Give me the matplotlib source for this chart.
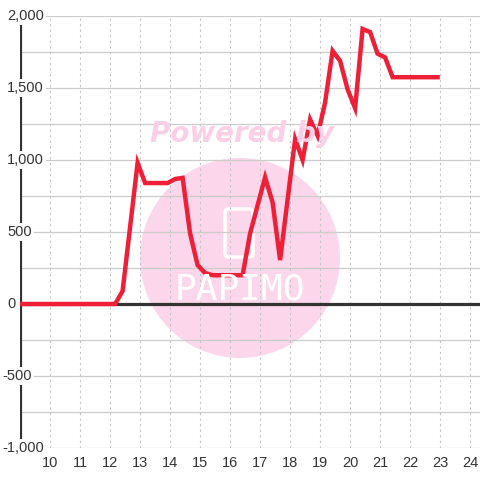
import matplotlib
matplotlib.use("Agg")
from matplotlib import pyplot as plt
from matplotlib import patches, transforms

plt.rcParams['font.family'] = ['Liberation Sans', 'DejaVu Sans']

# hour of day and value
hours = [9.0, 12.17, 12.42, 12.92, 13.17, 13.92, 14.17, 14.42, 14.67, 14.92,
         15.17, 15.42, 16.42, 16.67, 17.17, 17.42, 17.67, 18.17, 18.42, 18.67,
         18.92, 19.17, 19.42, 19.67, 19.92, 20.17, 20.42, 20.67, 20.92, 21.17,
         21.42, 22.92]
values = [0, 0, 90, 980, 840, 840, 868, 876, 490, 270,
          215, 200, 200, 490, 880, 705, 305, 1145, 1000, 1282,
          1168, 1400, 1758, 1688, 1490, 1360, 1910, 1888, 1738, 1712,
          1575, 1575]

x_ticks = list(range(10, 25))
y_ticks = [2000, 1500, 1000, 500, 0, -500, -1000]
y_labels = ["2,000", "1,500", "1,000", "500", "0", "-500", "-1,000"]

W = 480
fig = plt.figure(figsize=(4.8, 4.8), dpi=100)
ax = fig.add_axes([20 / W, 32 / W, 460 / W, 432 / W])
ax.set_xlim(9, 24.333)
ax.set_ylim(-1000, 2000)
for s in ax.spines.values():
    s.set_visible(False)

# watermark
circ = patches.Ellipse((240 / W, 1 - 258 / W), 200 / W, 200 / W, transform=fig.transFigure,
                       facecolor='#fcd6ea', edgecolor='none', zorder=0.1)
ax.add_patch(circ)
icon = patches.FancyBboxPatch((225 / W, 1 - 257 / W), 28 / W, 48 / W, transform=fig.transFigure,
                              boxstyle="round,pad=0,rounding_size=0.008", facecolor='none',
                              edgecolor='white', lw=2.5, zorder=0.2)
ax.add_patch(icon)
fig.text(240 / W, 1 - 290 / W, "PAPIMO", color='white', fontsize=26, ha='center', va='center',
         family='DejaVu Sans Mono', zorder=0.2)
fig.text(242 / W, 1 - 134 / W, "Powered by", color='#fbd0e6', fontsize=20, fontweight='bold',
         fontstyle='italic', ha='center', va='center', family='DejaVu Sans', zorder=0.2)

# grid
for v in range(-1000, 2001, 250):
    ax.axhline(v, color='#cccccc', lw=0.9, zorder=0.5)
for x in x_ticks:
    ax.axvline(x, color='#c4c4c4', lw=0.8, ls=(0, (2, 3)), zorder=0.5)

ax.axhline(0, color='#333333', lw=2.3, zorder=1)
ax.axvline(9, color='#333333', lw=2.3, zorder=1)

ax.plot(hours, values, color='#ee1f36', lw=3.2, zorder=3, solid_joinstyle='miter')

ax.set_yticks([])
ax.set_xticks(x_ticks)
ax.set_xticklabels([str(x) for x in x_ticks])
ax.tick_params(axis='x', length=0, pad=6, labelsize=10.5, labelcolor='#333333')

trans = transforms.blended_transform_factory(fig.transFigure, ax.transData)
for v, lab in zip(y_ticks, y_labels):
    xpos = 7 if v >= 0 else 2.5
    ax.text(xpos / W, v, lab, transform=trans, ha='left', va='center', fontsize=10.5,
            color='#333333', zorder=2,
            bbox=dict(facecolor='white', edgecolor='none', pad=1.5), clip_on=False)

fig.savefig("out.png", dpi=100, facecolor='white')
